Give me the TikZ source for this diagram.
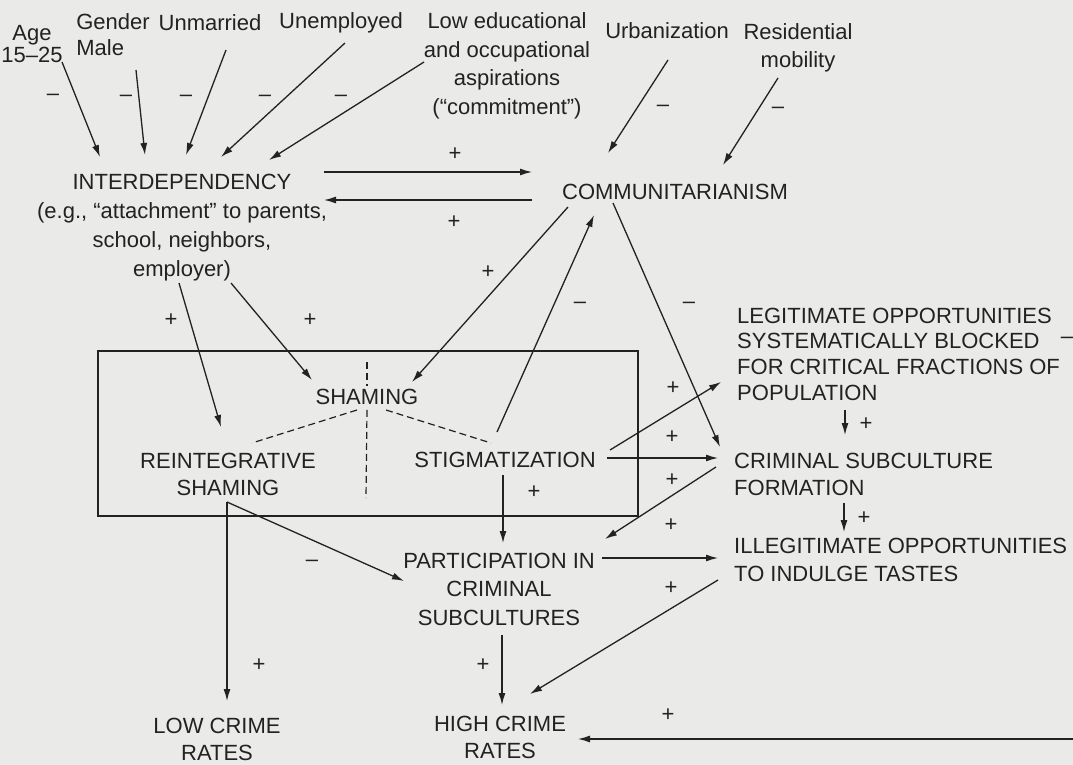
\documentclass[tikz,border=0pt]{standalone}
\usepackage{fontspec}
\setmainfont{Liberation Sans}
\usetikzlibrary{calc,arrows.meta}
\definecolor{ink}{HTML}{222222}
\definecolor{paper}{HTML}{EAEAE8}
\begin{document}
\begin{tikzpicture}[x=1pt,y=-1pt,
  every node/.style={font=\fontsize{22}{28}\selectfont, text=ink, inner sep=0pt},
  arr/.style={draw=ink, line width=1.3pt, -{Latex[length=12pt,width=7pt]}},
  ln/.style={draw=ink, line width=1.3pt},
  dsh/.style={draw=ink, line width=1.2pt, dash pattern=on 7pt off 4pt},
  sgn/.style={font=\fontsize{22}{24}\selectfont}]
\useasboundingbox (0,0) rectangle (1073,765);
\fill[paper] (0,0) rectangle (1073,765);

% top row
\node (age) at (32,44) [align=center, font=\fontsize{22}{22}\selectfont] {Age\\15–25};
\node (gender) at (113,35) [align=left, font=\fontsize{22}{26}\selectfont] {Gender\\Male};
\node (unmar) at (210,23) {Unmarried};
\node (unemp) at (341,23) {Unemployed};
\node (lowed) at (507,66) [align=center, font=\fontsize{22}{28.5}\selectfont] {Low educational\\and occupational\\aspirations\\(“commitment”)};
\node (urban) at (667,31) {Urbanization};
\node (resid) at (798,48) [align=center] {Residential\\mobility};

% main nodes
\node (inter) at (182,228) [align=center, font=\fontsize{22}{29}\selectfont] {INTERDEPENDENCY\\(e.g., “attachment” to parents,\\school, neighbors,\\employer)};
\node (comm) at (675,192) {COMMUNITARIANISM};
\node (box) at (368,433.5) [draw=ink, line width=1.3pt, minimum width=540pt, minimum height=165pt] {};
\node (sham) at (367,397) {SHAMING};
\node (reint) at (228,474) [align=center, font=\fontsize{22}{27}\selectfont] {REINTEGRATIVE\\SHAMING};
\node (stig) at (505,460) {STIGMATIZATION};
\node (legit) at (737,354) [anchor=west, align=left, font=\fontsize{22}{25.7}\selectfont] {LEGITIMATE OPPORTUNITIES\\SYSTEMATICALLY BLOCKED\\FOR CRITICAL FRACTIONS OF\\POPULATION};
\node (crim) at (734,474) [anchor=west, align=left, font=\fontsize{22}{27}\selectfont] {CRIMINAL SUBCULTURE\\FORMATION};
\node (illeg) at (734,560) [anchor=west, align=left] {ILLEGITIMATE OPPORTUNITIES\\TO INDULGE TASTES};
\node (partic) at (499,589) [align=center, font=\fontsize{22}{28.5}\selectfont] {PARTICIPATION IN\\CRIMINAL\\SUBCULTURES};
\node (low) at (217,739) [align=center, font=\fontsize{22}{27}\selectfont] {LOW CRIME\\RATES};
\node (high) at (500,737) [align=center, font=\fontsize{22}{27}\selectfont] {HIGH CRIME\\RATES};
\coordinate (edge) at (1073,739);

% dashed lines inside the box
\draw[dsh] (367,362) -- ($(sham.north)+(0,-3)$);
\draw[dsh] ($(sham.south)+(0,5)$) -- (366,498);
\draw[dsh] ($(sham)+(-10,13)$) -- ($(reint)+(24,-31)$);
\draw[dsh] ($(sham)+(19,13)$) -- ($(stig)+(-14,-17)$);

% top arrows
\draw[arr] ($(age)+(30,18)$) -- ($(inter)+(-82,-71)$);
\draw[arr] ($(gender)+(23,35)$) -- ($(inter)+(-37,-73)$);
\draw[arr] ($(unmar)+(16,27)$) -- ($(inter)+(4,-73)$);
\draw[arr] ($(unemp)+(4,20)$) -- ($(inter)+(39,-71)$);
\draw[arr] ($(lowed)+(-83,-4)$) -- ($(inter)+(87,-68)$);
\draw[arr] ($(urban)+(1,29)$) -- ($(comm)+(-67,-39)$);
\draw[arr] ($(resid)+(-20,30)$) -- ($(comm)+(48,-27)$);
\node (m1) at (53,97) [sgn] {–};
\node (m2) at (126,98) [sgn] {–};
\node (m3) at (186,98) [sgn] {–};
\node (m4) at (265,98) [sgn] {–};
\node (m5) at (341,98) [sgn] {–};
\node (m6) at (663,108) [sgn] {–};
\node (m7) at (778,110) [sgn] {–};

% interdependency <-> communitarianism
\draw[arr] ($(inter)+(142,-56)$) -- ($(comm)+(-143,-20)$);
\draw[arr] ($(comm)+(-143,8)$) -- ($(inter)+(142,-28)$);
\node (p1) at (455,154) [sgn] {+};
\node (p2) at (454,222) [sgn] {+};

% into the box
\draw[arr] ($(inter)+(-3,55)$) -- ($(reint)+(-7,-47)$);
\draw[arr] ($(inter)+(49,55)$) -- ($(sham)+(-55,-17)$);
\node (p3) at (171,320) [sgn] {+};
\node (p4) at (310,320) [sgn] {+};
\draw[arr] ($(comm)+(-107,15)$) -- ($(sham)+(45,-15)$);
\node (p5) at (488,272) [sgn] {+};
\draw[arr] ($(stig)+(-8,-28)$) -- ($(comm)+(-81,23)$);
\node (m8) at (580,305) [sgn] {–};
\draw[arr] ($(comm)+(-62,11)$) -- ($(crim.west)+(-14,-27)$);
\node (m9) at (689,305) [sgn] {–};

% stigmatization outputs
\draw[arr] ($(stig)+(105,-10)$) -- ($(legit.west)+(-16,28)$);
\node (p6) at (673,388) [sgn] {+};
\draw[arr] ($(stig)+(102,-2)$) -- ($(crim.west)+(-16,-16)$);
\node (p7) at (672,437) [sgn] {+};
\draw[arr] ($(crim.west)+(-18,-7)$) -- ($(partic)+(106,-50)$);
\node (p8) at (672,480) [sgn] {+};
\draw[arr] ($(stig)+(-2,15)$) -- ($(partic)+(4,-46)$);
\node (p9) at (534,492) [sgn] {+};

% right column
\draw[arr] ($(legit.west)+(108,56)$) -- ($(crim.west)+(111,-39)$);
\node (p10) at (866,424) [sgn] {+};
\draw[arr] ($(crim.west)+(110,29)$) -- ($(illeg.west)+(110,-28)$);
\node (p11) at (864,518) [sgn] {+};
\draw[arr] ($(partic)+(103,-31)$) -- ($(illeg.west)+(-16,-2)$);
\node (p12) at (671,525) [sgn] {+};
\draw[arr] ($(illeg.west)+(-16,20)$) -- ($(high)+(30,-43)$);
\node (p13) at (671,588) [sgn] {+};
\node (m10) at (1067,340) [sgn] {–};

% bottom
\draw[arr] ($(partic)+(3,46)$) -- ($(high)+(2,-32)$);
\node (p14) at (483,665) [sgn] {+};
\draw[arr] ($(reint)+(-1,28)$) -- ($(partic)+(-95,-8)$);
\node (m11) at (312,563) [sgn] {–};
\draw[arr] ($(reint)+(-1,28)$) -- ($(low)+(10,-38)$);
\node (p15) at (259,665) [sgn] {+};
\draw[arr] (edge) -- ($(high)+(78,2)$);
\node (p16) at (668,715) [sgn] {+};
\end{tikzpicture}
\end{document}
